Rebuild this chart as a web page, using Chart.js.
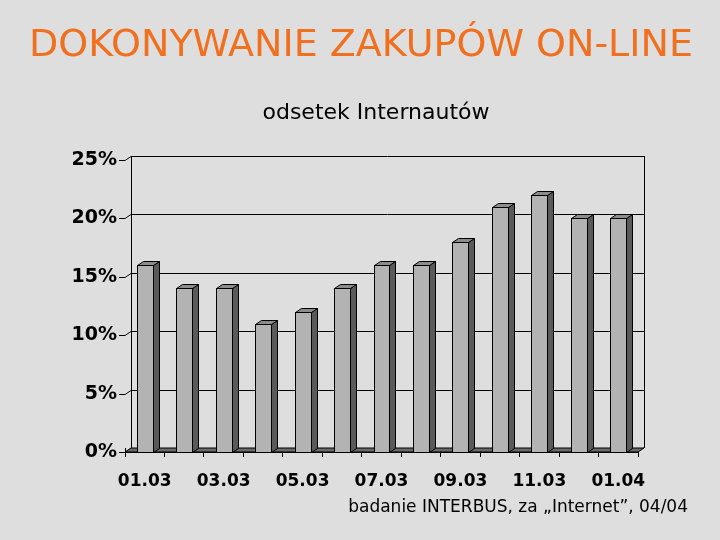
<!DOCTYPE html>
<html>
<head>
<meta charset="utf-8">
<script src="https://cdn.jsdelivr.net/npm/chart.js@4.4.1/dist/chart.umd.min.js"></script>
<style>
  body { margin: 0; background: #dedede; }
  #wrap { position: relative; width: 720px; height: 540px; overflow: hidden; }
  #chart { position: absolute; left: 0; top: 0; }
  .txt { position: absolute; font-family: "DejaVu Sans", sans-serif; white-space: nowrap; }
  #title { left: 0; width: 722px; top: 21px; text-align: center; font-size: 38px; color: #f07020; }
  #sub { left: 0; width: 752px; top: 99px; text-align: center; font-size: 22px; color: #000; }
  #src { right: 32px; top: 496px; font-size: 17px; color: #000; }
</style>
</head>
<body>
<div id="wrap">
  <canvas id="chart" width="720" height="540"></canvas>
  <div class="txt" id="title">DOKONYWANIE ZAKUPÓW ON-LINE</div>
  <div class="txt" id="sub">odsetek Internautów</div>
  <div class="txt" id="src">badanie INTERBUS, za „Internet”, 04/04</div>
</div>
<script>
// ---------- Data ----------
const months = ["01.03", "02.03", "03.03", "04.03", "05.03", "06.03", "07.03",
                "08.03", "09.03", "10.03", "11.03", "12.03", "01.04"];
const shares = [16, 14, 14, 11, 12, 14, 16, 16, 18, 21, 22, 20, 20];
const yTicks = [0, 5, 10, 15, 20, 25];

// 3D depth of the box (back plane is up-right of the front)
const DX = 6, DY = 4;

const box3d = {
  id: "box3d",
  afterDatasetsDraw(chart) {
    const ctx = chart.ctx;
    const x = chart.scales.x, y = chart.scales.y;
    const L = chart.chartArea.left, R = chart.chartArea.right;
    const top = y.getPixelForValue(25), bot = y.getPixelForValue(0);
    ctx.save();
    ctx.lineWidth = 1;
    ctx.strokeStyle = "#000";

    // back wall gridlines + side edges
    ctx.beginPath();
    yTicks.forEach((v) => {
      const py = Math.round(y.getPixelForValue(v)) + 0.5;
      ctx.moveTo(L + DX, py);
      ctx.lineTo(R + DX, py);
      // little tick from label to wall
      ctx.moveTo(L - 6, py + DY);
      ctx.lineTo(L, py + DY);
      ctx.lineTo(L + DX, py);
    });
    ctx.moveTo(L + DX + 0.5, top);
    ctx.lineTo(L + DX + 0.5, bot);
    ctx.moveTo(R + DX + 0.5, top);
    ctx.lineTo(R + DX + 0.5, bot);
    ctx.stroke();

    // floor
    ctx.beginPath();
    ctx.moveTo(L, bot + DY);
    ctx.lineTo(L + DX, bot);
    ctx.lineTo(R + DX, bot);
    ctx.lineTo(R, bot + DY);
    ctx.closePath();
    ctx.fillStyle = "#6a6a6a";
    ctx.fill();
    ctx.stroke();

    // bars
    chart.getDatasetMeta(0).data.forEach((bar) => {
      const hw = bar.width / 2;
      const l = Math.round(bar.x - hw) + 0.5, r = Math.round(bar.x + hw) + 0.5;
      const t = Math.round(bar.y + DY) + 0.5, b = Math.round(bar.base + DY) + 0.5;
      // side
      ctx.beginPath();
      ctx.moveTo(r, t); ctx.lineTo(r + DX, t - DY); ctx.lineTo(r + DX, b - DY); ctx.lineTo(r, b);
      ctx.closePath();
      ctx.fillStyle = "#5a5a5a"; ctx.fill(); ctx.stroke();
      // top
      ctx.beginPath();
      ctx.moveTo(l, t); ctx.lineTo(l + DX, t - DY); ctx.lineTo(r + DX, t - DY); ctx.lineTo(r, t);
      ctx.closePath();
      ctx.fillStyle = "#8c8c8c"; ctx.fill(); ctx.stroke();
      // front
      ctx.fillStyle = "#b3b3b3";
      ctx.fillRect(l, t, r - l, b - t);
      ctx.strokeRect(l, t, r - l, b - t);
    });

    // front floor edge
    ctx.beginPath();
    ctx.moveTo(L, Math.round(bot + DY) + 0.5);
    ctx.lineTo(R, Math.round(bot + DY) + 0.5);
    ctx.stroke();
    ctx.restore();
  }
};

new Chart(document.getElementById("chart"), {
  type: "bar",
  data: {
    labels: months,
    datasets: [{
      data: shares,
      backgroundColor: "rgba(0,0,0,0)",
      borderWidth: 0,
      barPercentage: 0.405,
      categoryPercentage: 1
    }]
  },
  options: {
    responsive: false,
    animation: false,
    layout: { padding: { left: 0, right: 82, top: 156, bottom: 0 } },
    plugins: { legend: { display: false }, tooltip: { enabled: false } },
    scales: {
      x: {
        afterFit: (s) => { s.height = 92; },
        grid: { display: true, drawOnChartArea: false, drawTicks: true, tickLength: 9, color: "#000", offset: true },
        border: { display: false },
        ticks: {
          autoSkip: false, maxRotation: 0, padding: 14, color: "#000",
          font: { family: "DejaVu Sans", size: 17, weight: "bold" },
          callback: (v, i) => (i % 2 === 0 ? months[i] : "")
        }
      },
      y: {
        min: 0, max: 25,
        afterFit: (s) => { s.width = 125; },
        grid: { display: false },
        border: { display: false },
        ticks: {
          stepSize: 5, padding: 0, labelOffset: DY, color: "#000",
          font: { family: "DejaVu Sans", size: 19, weight: "bold" },
          callback: (v) => v + "%"
        }
      }
    }
  },
  plugins: [box3d]
});
</script>
</body>
</html>
